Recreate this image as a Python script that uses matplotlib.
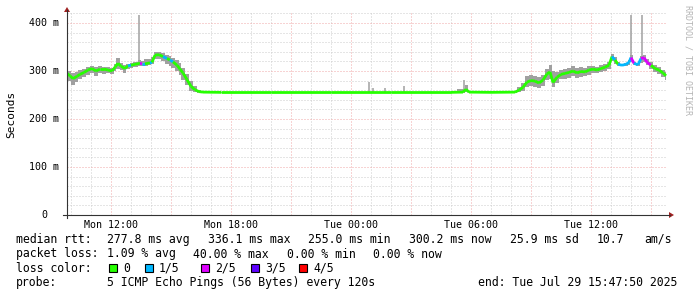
import numpy as np
import matplotlib
matplotlib.use("Agg")
import matplotlib.pyplot as plt
from matplotlib.collections import LineCollection
from matplotlib.lines import Line2D
from matplotlib.patches import Rectangle, Polygon

# SmokePing style latency graph, ~30 hours ending Tue 15:47:50
# time in hours since Mon 00:00, latency in ms
hours = [9.80, 9.95, 10.10, 10.30, 10.45, 10.65, 10.85, 11.05, 11.25, 11.45,
         11.65, 11.85, 12.05, 12.20, 12.35, 12.50, 12.70, 12.85, 13.00, 13.20,
         13.45, 13.55, 13.70, 13.95, 14.05, 14.20, 14.40, 14.60, 14.80, 14.95,
         15.10, 15.30, 15.45, 15.60, 15.80, 16.00, 16.20, 16.40, 16.60,
         17.50, 20.00, 23.00, 26.00, 29.00, 29.60, 29.75, 29.90, 31.00, 32.20,
         32.40, 32.60, 32.80, 33.00, 33.20, 33.40, 33.60, 33.80, 33.95, 34.10,
         34.30, 34.50, 34.70, 34.90, 35.10, 35.30, 35.50, 35.70, 35.90, 36.10,
         36.30, 36.50, 36.70, 36.90, 37.05, 37.20, 37.35, 37.55, 37.75, 37.90,
         38.00, 38.15, 38.35, 38.50, 38.65, 38.80, 39.00, 39.20, 39.40, 39.60,
         39.75]
median_ms = [295, 290, 284, 289, 293, 297, 302, 305, 300, 304,
             304, 302, 300, 308, 316, 310, 305, 311, 312, 314,
             316, 315, 315, 317, 318, 333, 334, 330, 326, 323,
             319, 312, 304, 296, 282, 268, 261, 257, 256,
             255.5, 255.5, 255.5, 255.5, 255.5, 256, 262, 256, 255.5, 256,
             260, 266, 277, 280, 279, 275, 281, 294, 298, 276,
             287, 293, 295, 297, 300, 296, 299, 298, 302, 304,
             302, 305, 308, 312, 330, 323, 314, 312, 314, 318,
             328, 316, 313, 326, 328, 318, 312, 305, 302, 296,
             290]
smoke_lo = [285, 280, 271, 278, 283, 288, 292, 295, 290, 295,
            294, 296, 294, 300, 305, 302, 296, 304, 306, 309,
            311, 311, 311, 313, 314, 326, 326, 320, 315, 311,
            306, 299, 291, 282, 270, 259, 256, 255, 255,
            255, 255, 255, 255, 255, 255, 256, 255, 255, 255,
            256, 258, 266, 268, 266, 264, 268, 282, 284, 266,
            276, 283, 284, 286, 289, 285, 288, 289, 292, 296,
            295, 297, 301, 305, 320, 315, 310, 310, 311, 313,
            318, 313, 311, 316, 318, 312, 304, 297, 293, 287,
            282]
smoke_hi = [302, 300, 295, 298, 302, 305, 309, 310, 308, 310,
            309, 308, 306, 314, 328, 316, 312, 315, 316, 318,
            322, 320, 326, 325, 330, 339, 340, 337, 334, 331,
            328, 322, 316, 306, 294, 280, 268, 260, 257,
            256.5, 256, 256, 256.5, 256, 262, 270, 258, 256, 258,
            266, 276, 290, 292, 290, 288, 292, 305, 312, 300,
            298, 303, 305, 306, 310, 306, 308, 306, 310, 311,
            309, 312, 314, 318, 336, 330, 318, 315, 317, 322,
            333, 319, 315, 332, 334, 324, 318, 312, 309, 303,
            298]
# lost pings out of 5 for each sample
loss = [0, 0, 0, 0, 0, 0, 0, 0, 0, 0,
        0, 0, 0, 0, 0, 0, 0, 1, 0, 0,
        2, 1, 0, 1, 0, 0, 0, 1, 0, 1,
        0, 0, 0, 0, 0, 0, 0, 0, 0,
        0, 0, 0, 0, 0, 0, 0, 0, 0, 0,
        0, 0, 0, 0, 0, 0, 0, 0, 0, 0,
        0, 0, 0, 0, 0, 0, 0, 0, 0, 0,
        0, 0, 0, 0, 1, 0, 1, 1, 1, 1,
        2, 1, 1, 2, 2, 2, 0, 0, 0, 0,
        0]

# single slow pings sticking out of the smoke
spike_hours = [13.40, 24.90, 25.10, 25.70, 26.65, 29.65, 38.00, 38.55]
spike_top = [416, 277, 265, 265, 269, 281, 417, 417]

loss_colors = ['#26ff00', '#00b8ff', '#dd00ff', '#5e00ff', '#ff0000']
loss_labels = ['0', '1/5', '2/5', '3/5', '4/5']
tick_hours = [12, 18, 24, 30, 36]
tick_labels = ['Mon 12:00', 'Mon 18:00', 'Tue 00:00', 'Tue 06:00', 'Tue 12:00']
y_ticks = [0, 100, 200, 300, 400]
y_labels = ['0', '100 m', '200 m', '300 m', '400 m']

W, H = 697, 297
fig = plt.figure(figsize=(W / 100, H / 100), dpi=100)
fig.patch.set_facecolor('white')

def fx(px):
    return px / W

def fy(py):
    return 1 - py / H

x0, x1, ytop, ybot = 67, 667, 13, 215
ax = fig.add_axes([fx(x0), fy(ybot), (x1 - x0) / W, (ybot - ytop) / H])
ax.set_xlim(9.8, 39.8)
ax.set_ylim(0, (ybot - ytop) / 0.48)
for s in ax.spines.values():
    s.set_visible(False)
ax.set_xticks([])
ax.set_yticks([])

# grid: grey every hour / 20 ms, red every 3 h / 100 ms
dot = (0, (1, 2))
for h in np.arange(10, 40, 1):
    c = '#f0a8a8' if h % 3 == 0 else '#cccccc'
    ax.axvline(h, color=c, lw=0.72, ls=dot, zorder=0)
for v in np.arange(20, 421, 20):
    c = '#f0a8a8' if v % 100 == 0 else '#cccccc'
    ax.axhline(v, color=c, lw=0.72, ls=dot, zorder=0)

t = np.array(hours)
med = np.array(median_ms)
ax.fill_between(t, smoke_lo, smoke_hi, step='mid', color='#a0a0a0', lw=0, zorder=1)
ax.vlines(spike_hours, np.interp(spike_hours, t, med), spike_top,
          color='#a0a0a0', lw=1.1, zorder=1)

pts = np.column_stack([t, med])
segs = np.stack([pts[:-1], pts[1:]], axis=1)
lc = LineCollection(segs, colors=[loss_colors[k] for k in loss[:-1]],
                    linewidths=2.0, capstyle='butt', zorder=3)
ax.add_collection(lc)

mono = 'DejaVu Sans Mono'

# axes lines with arrows
fig.add_artist(Line2D([fx(x0), fx(x0)], [fy(218), fy(10)], color='#333333', lw=0.8))
fig.add_artist(Line2D([fx(63), fx(670)], [fy(ybot), fy(ybot)], color='#333333', lw=0.8))
fig.add_artist(Polygon([[fx(64), fy(12)], [fx(70), fy(12)], [fx(67), fy(7)]],
                       closed=True, color='#a02020', lw=0))
fig.add_artist(Polygon([[fx(669), fy(212)], [fx(669), fy(218)], [fx(674), fy(215)]],
                       closed=True, color='#a02020', lw=0))

for h, lab in zip(tick_hours, tick_labels):
    px = 111 + (h - 12) * 20
    fig.text(fx(px), fy(225), lab, family=mono, fontsize=7.2, ha='center', va='center')
for v, lab in zip(y_ticks, y_labels):
    py = ybot - v * 0.48
    fig.text(fx(44), fy(py), lab, family=mono, fontsize=7.2, ha='center', va='center')

fig.text(fx(11), fy(114), 'Seconds', family=mono, fontsize=8, rotation=90,
         ha='center', va='center')
fig.text(fx(688), fy(5), 'RRDTOOL / TOBI OETIKER', family=mono, fontsize=6.0,
         rotation=270, ha='center', va='top', color='#b4b4b4')

fs = 8.3
rows = [239.5, 254, 268, 282.5]
line1 = [(16, 'median rtt:'), (107, '277.8 ms avg'), (208, '336.1 ms max'),
         (308, '255.0 ms min'), (409, '300.2 ms now'), (510, '25.9 ms sd'),
         (597, '10.7'), (644, 'am/s')]
line2 = [(16, 'packet loss:'), (107, '1.09 % avg'), (193, '40.00 % max'),
         (287, '0.00 % min'), (373, '0.00 % now')]
line4 = [(16, 'probe:'), (107, '5 ICMP Echo Pings (56 Bytes) every 120s'),
         (478, 'end: Tue Jul 29 15:47:50 2025')]
for row, items in zip([rows[0], rows[1], rows[3]], [line1, line2, line4]):
    for px, s in items:
        fig.text(fx(px), fy(row), s, family=mono, fontsize=fs, ha='left', va='center')

fig.text(fx(16), fy(rows[2]), 'loss color:', family=mono, fontsize=fs, ha='left', va='center')
box_x = [109, 145, 201, 251, 299]
for bx, col, lab in zip(box_x, loss_colors, loss_labels):
    fig.add_artist(Rectangle((fx(bx), fy(rows[2] + 4)), 8 / W, 8 / H,
                             facecolor=col, edgecolor='black', lw=0.8))
    fig.text(fx(bx + 14), fy(rows[2]), lab, family=mono, fontsize=fs, ha='left', va='center')

fig.savefig('out.png', dpi=100)
